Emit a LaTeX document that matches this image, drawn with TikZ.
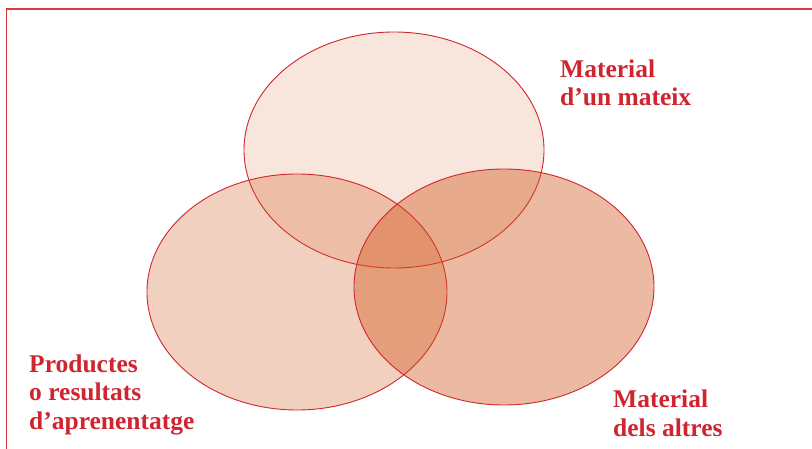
\documentclass[tikz,border=0pt]{standalone}
\usepackage{fontspec}
\setmainfont{Liberation Serif}
\definecolor{vnred}{RGB}{208,36,46}
\definecolor{vnfill}{RGB}{208,82,22}
\definecolor{vnframe}{RGB}{222,52,62}
\usetikzlibrary{shapes.geometric}

\begin{document}
\begin{tikzpicture}[x=1pt, y=-1pt,
  blob/.style={draw=vnred, line width=0.9pt, fill=vnfill, ellipse, minimum width=300pt, minimum height=236pt, inner sep=0pt},
  tag/.style={anchor=base west, inner sep=0pt, align=left, text=vnred, font=\fontsize{25.5}{28.5}\selectfont\bfseries}
]
  \useasboundingbox (0,0) rectangle (812,449);
  \draw[vnframe, line width=1.6pt] (6.5,449) -- (6.5,9) -- (812,9);

  \node[blob, fill opacity=0.15] (mine) at (394,150) {};
  \node[blob, fill opacity=0.27] (products) at (297,292) {};
  \node[blob, fill opacity=0.40] (others) at (504,287) {};

  % base anchor sits on the last line
  \node[tag] (tmine) at (560,106) {Material\\d’un mateix};
  \node[tag] (tproducts) at (29,429) {Productes\\o resultats\\d’aprenentatge};
  \node[tag] (tothers) at (613,436) {Material\\dels altres};
\end{tikzpicture}
\end{document}
